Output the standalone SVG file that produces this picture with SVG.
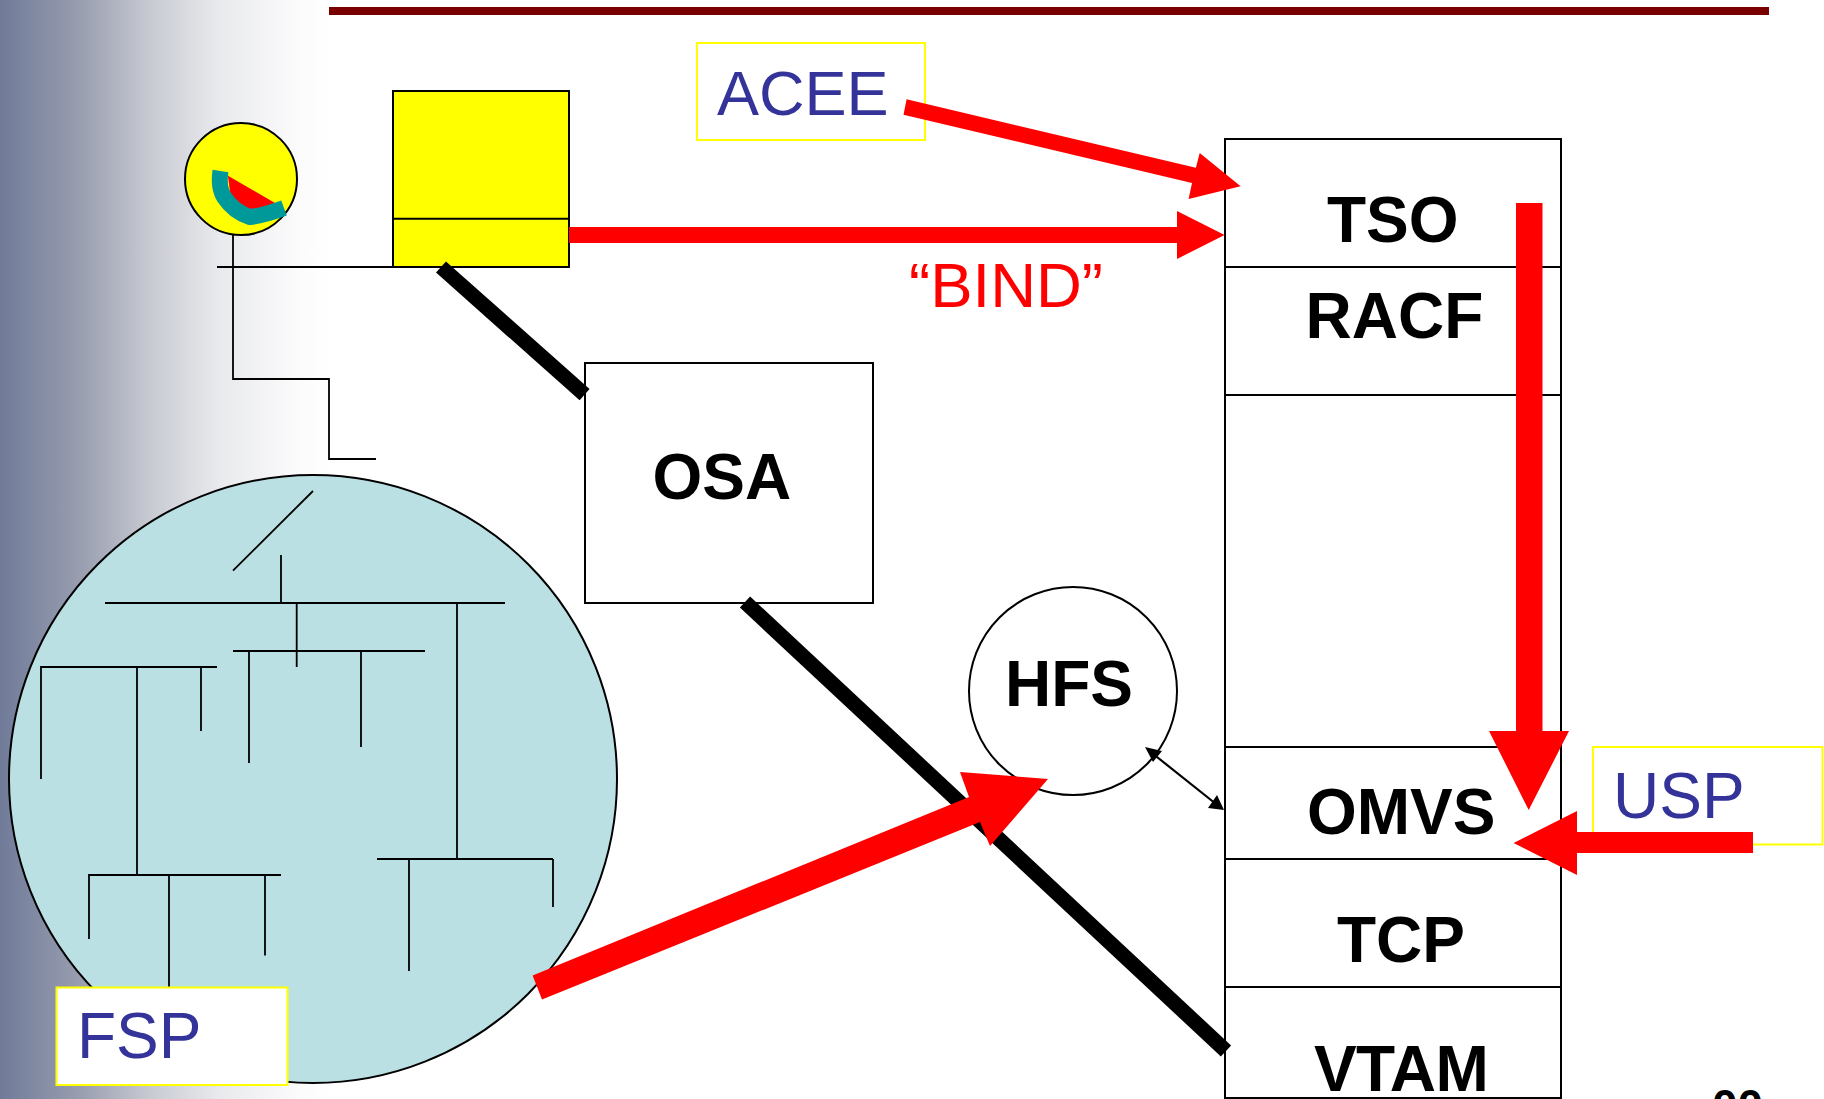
<svg xmlns="http://www.w3.org/2000/svg" width="1824" height="1099" viewBox="0 0 1824 1099">
<style>
.ln{fill:none;stroke:#000;stroke-width:2}
.thin{fill:none;stroke:#000;stroke-width:1.8}
.box{fill:#fff;stroke:#000;stroke-width:2}
.note{fill:#fff;stroke:#ff0;stroke-width:2}
.red{fill:#f00;stroke:none}
.blk{stroke:#000;stroke-width:15;fill:none}
.b{font-family:"Liberation Sans",Arial,sans-serif;font-weight:700;font-size:64px;fill:#000}
.n{font-family:"Liberation Sans",Arial,sans-serif;font-size:64px;fill:#333399}
</style>
<defs>
<linearGradient id="bg" gradientUnits="userSpaceOnUse" x1="0" y1="0" x2="330" y2="0">
<stop offset="0" stop-color="#707B99"/>
<stop offset="0.25" stop-color="#9A9FB0"/>
<stop offset="0.46" stop-color="#C9CBD3"/>
<stop offset="0.66" stop-color="#E8E9EC"/>
<stop offset="0.9" stop-color="#FBFBFC"/>
<stop offset="1" stop-color="#FFFFFF"/>
</linearGradient>
</defs>
<rect width="1824" height="1099" fill="#fff"/>
<rect width="330" height="1099" fill="url(#bg)"/>
<rect x="329" y="7" width="1440" height="8" fill="#7A0000"/>

<g id="tree">
<circle cx="313" cy="779" r="304" fill="#BAE0E3" stroke="#000" stroke-width="2"/>
<path class="thin" d="M313 491L233 570.6M281 555V603M105 603H505M296.7 603V667M233 651H425M249 651V763M361 651V747M457 603V859M377 859H553M409 859V971M553 859V907M41 779V667H217M137 667V875M201 667V731M89 939V875H281M169 875V988M265 875V955.5"/>
</g>

<g id="fsp">
<rect class="note" x="56.5" y="987.5" width="231" height="97.5"/>
<text class="n" x="77" y="1058">FSP</text>
</g>

<g id="terminal">
<circle cx="241" cy="179" r="56" fill="#ff0" stroke="#000" stroke-width="2"/>
<path d="M228 175.7L275 203Q262 209 250 211Q237 205 230 192Z" fill="#f00"/>
<path d="M220.5 171Q218 187 224 197Q234 212 250 217Q262 216 284 208" fill="none" stroke="#009999" stroke-width="16"/>
</g>

<g id="host">
<rect x="393" y="91" width="176" height="176" fill="#ff0" stroke="#000" stroke-width="2"/>
<path class="ln" d="M393 218.7H569"/>
</g>

<g id="osa">
<rect class="box" x="585" y="363" width="288" height="240"/>
<text class="b" x="652.5" y="499">OSA</text>
</g>

<g id="stack">
<rect class="box" x="1225" y="139" width="336" height="959"/>
<path class="ln" d="M1225 267H1561M1225 395H1561M1225 747H1561M1225 859H1561M1225 987H1561"/>
<text class="b" x="1327" y="241.5">TSO</text>
<text class="b" x="1305.5" y="338">RACF</text>
<text class="b" x="1307" y="834">OMVS</text>
<text class="b" x="1337" y="962">TCP</text>
<text class="b" x="1314" y="1090.5" letter-spacing="-0.6">VTAM</text>
</g>

<g id="hfs">
<circle cx="1073" cy="691" r="104" fill="#fff" stroke="#000" stroke-width="2"/>
<text class="b" x="1005" y="706">HFS</text>
</g>

<g id="acee">
<rect class="note" x="697" y="43" width="228" height="97"/>
<text class="n" x="717" y="114.5" font-size="63" style="font-size:63px">ACEE</text>
</g>

<g id="usp">
<rect class="note" x="1593" y="747" width="229.5" height="97.5"/>
<text class="n" x="1613" y="818">USP</text>
</g>

<g id="connectors">
<path class="thin" d="M217 267H393M233 235V379H329V459H376"/>
<line class="blk" x1="441" y1="267" x2="584.6" y2="394.7"/>
<line class="blk" x1="745" y1="602" x2="1226" y2="1051"/>
<path class="red" d="M906.6 99.3L1195.9 167.7L1199.7 153L1240.6 186.3L1188.6 199L1192 183L903.5 114.7Z"/>
<path class="red" d="M569 227H1177V211L1224.6 235L1177 259V243H569Z"/>
<path class="red" d="M1516 203H1542.5V731H1569L1528.7 810L1489 731H1516Z"/>
<path class="red" d="M1753 832H1577V811L1513.6 843L1577 875V853H1753Z"/>
<path class="red" d="M532.6 975.5L969 797L960 772L1048 779L990 846L980 822L542 999.6Z"/>
<line x1="1152" y1="753" x2="1216" y2="804" stroke="#000" stroke-width="2.2"/>
<path d="M1145 747L1162 751L1153 762Z" fill="#000"/>
<path d="M1224 810L1217 795L1208 808Z" fill="#000"/>
</g>

<text id="bind" x="909" y="307" font-family="'Liberation Sans',Arial,sans-serif" font-size="63.5" fill="#f00">“BIND”</text>
<text id="page" x="1712" y="1122" font-family="'Liberation Sans',Arial,sans-serif" font-weight="700" font-size="46" fill="#000">00</text>
</svg>
